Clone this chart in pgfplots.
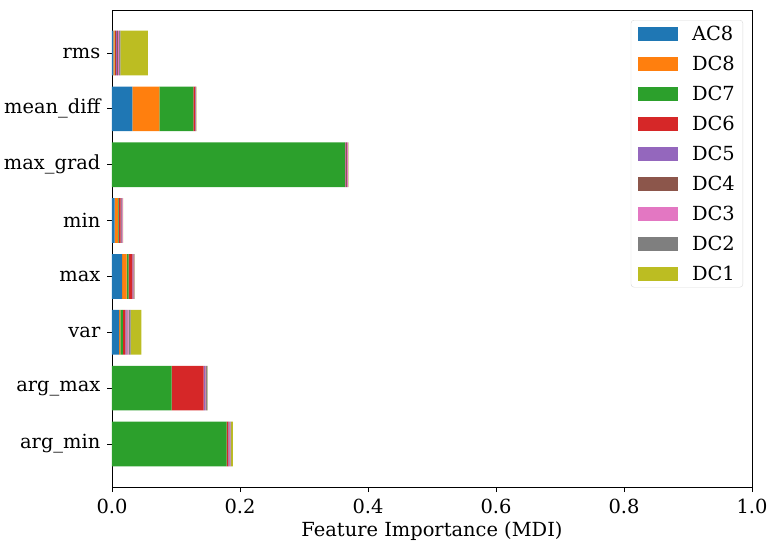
\documentclass[border=0pt]{standalone}
\usepackage{fontspec}
\setmainfont{DejaVu Serif}
\usepackage{pgfplots}
\pgfplotsset{compat=1.18}
\definecolor{c0}{HTML}{1F77B4}
\definecolor{c1}{HTML}{FF7F0E}
\definecolor{c2}{HTML}{2CA02C}
\definecolor{c3}{HTML}{D62728}
\definecolor{c4}{HTML}{9467BD}
\definecolor{c5}{HTML}{8C564B}
\definecolor{c6}{HTML}{E377C2}
\definecolor{c7}{HTML}{7F7F7F}
\definecolor{c8}{HTML}{BCBD22}
\begin{document}
\fontsize{19.5}{23}\selectfont
\begin{tikzpicture}
\useasboundingbox (-112bp,-55bp) rectangle (658bp,487bp);
\begin{axis}[
  at={(0,0)}, anchor=south west,
  scale only axis, width=640bp, height=477bp,
  xbar stacked, bar width=0.8,
  xmin=0, xmax=1, ymin=-0.77, ymax=7.77,
  xtick={0,0.2,...,1.0},
  xticklabel style={/pgf/number format/fixed,/pgf/number format/precision=1,/pgf/number format/fixed zerofill},
  ytick={0,...,7},
  yticklabels={arg\_min,arg\_max,var,max,min,max\_grad,mean\_diff,rms},
  /pgf/number format/assume math mode=true,
  tick align=outside, tick pos=left,
  major tick length=5bp,
  tick style={black, line width=0.8pt},
  axis line style={line width=0.8pt},
  xlabel={Feature Importance (MDI)},
  xlabel style={yshift=5bp},
  ticklabel style={font=\fontsize{19.5}{23}\selectfont},
  label style={font=\fontsize{19.5}{23}\selectfont},
  legend style={at={(0.986,0.979)}, anchor=north east, draw=black!15, rounded corners=3pt,
    font=\fontsize{19.5}{23}\selectfont, inner xsep=7bp, inner ysep=5bp,
    row sep=13bp,
    nodes={inner sep=1bp, text height=14bp, text depth=1bp},
    /tikz/every odd column/.append style={column sep=13bp}},
  legend cell align=left,
  legend image code/.code={\path[#1, sharp corners] (0bp,-7bp) rectangle (40bp,7bp);},
]
\addplot[fill=c0, draw=none] coordinates {(0,0) (0,1) (0.011,2) (0.016,3) (0.004,4) (0,5) (0.032,6) (0.002,7)};
\addplot[fill=c1, draw=none] coordinates {(0,0) (0,1) (0.002,2) (0.007,3) (0.005,4) (0,5) (0.042,6) (0.002,7)};
\addplot[fill=c2, draw=none] coordinates {(0.179,0) (0.093,1) (0.004,2) (0.003,3) (0.0015,4) (0.364,5) (0.053,6) (0.001,7)};
\addplot[fill=c3, draw=none] coordinates {(0.002,0) (0.050,1) (0.004,2) (0.006,3) (0.003,4) (0.0005,5) (0.003,6) (0.001,7)};
\addplot[fill=c4, draw=none] coordinates {(0.001,0) (0.002,1) (0.002,2) (0.001,3) (0.001,4) (0.0015,5) (0.0005,6) (0.002,7)};
\addplot[fill=c5, draw=none] coordinates {(0.001,0) (0.001,1) (0.001,2) (0.0005,3) (0.001,4) (0.001,5) (0.0003,6) (0.001,7)};
\addplot[fill=c6, draw=none] coordinates {(0.002,0) (0.001,1) (0.002,2) (0.001,3) (0.001,4) (0.0015,5) (0.0003,6) (0.002,7)};
\addplot[fill=c7, draw=none] coordinates {(0.001,0) (0.002,1) (0.003,2) (0.0005,3) (0.0005,4) (0.0005,5) (0.0003,6) (0.002,7)};
\addplot[fill=c8, draw=none] coordinates {(0.003,0) (0.0005,1) (0.017,2) (0.0005,3) (0.0005,4) (0.0003,5) (0.0003,6) (0.043,7)};
\legend{AC8,DC8,DC7,DC6,DC5,DC4,DC3,DC2,DC1}
\end{axis}
\end{tikzpicture}
\end{document}
